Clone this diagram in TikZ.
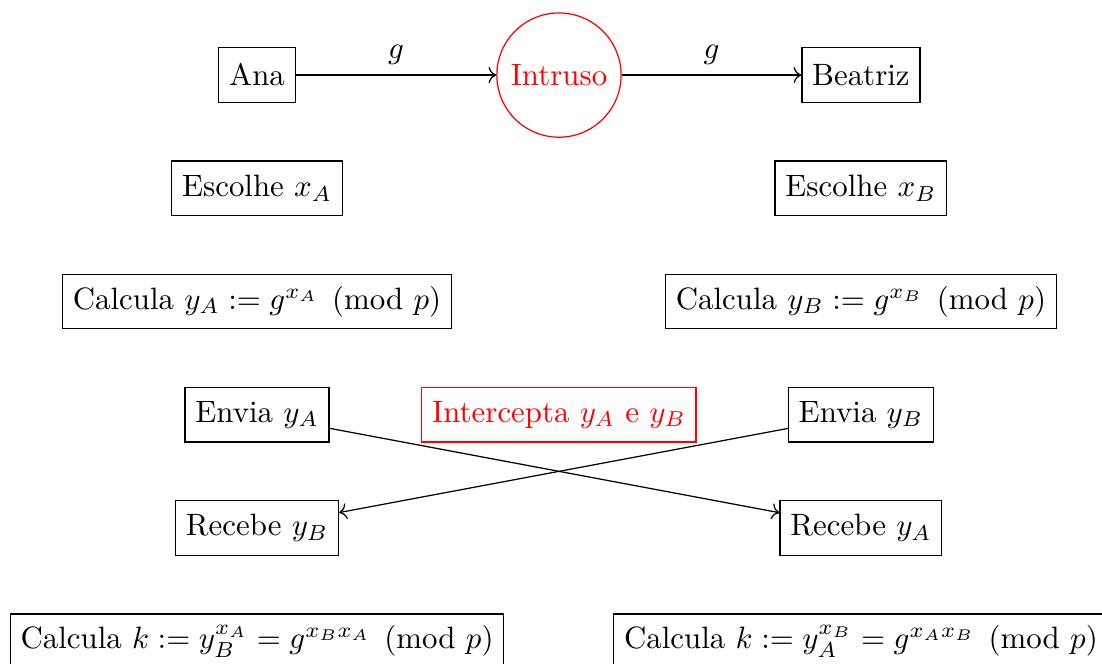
\documentclass[tikz,border=0pt]{standalone}
\usepackage{xcolor}
\usepackage{amsmath}
\usepackage{tikz}
\usetikzlibrary{arrows.meta, positioning}

\begin{document}
\begin{tikzpicture}[
  on grid,
  node distance=1.288cm and 3.435cm,
  passo/.style={rectangle, draw=black, minimum height=0.62cm, align=center},
  espiao/.style={circle, draw=red, text=red},
  espiaobox/.style={rectangle, draw=red, text=red, minimum height=0.62cm},
  arr/.style={->}
]
\useasboundingbox (-83.2pt,24.3pt) rectangle (273.5pt,-190.6pt);
\node[passo] (ana) {Ana};
\node[espiao, right=of ana] (intruso) {Intruso};
\node[passo, right=of intruso] (beatriz) {Beatriz};
\node[passo, below=of ana] (escA) {Escolhe $x_A$};
\node[passo, below=of beatriz] (escB) {Escolhe $x_B$};
\node[passo, below=of escA] (calcA) {Calcula $y_A := g^{x_A} \pmod{p}$};
\node[passo, below=of escB] (calcB) {Calcula $y_B := g^{x_B} \pmod{p}$};
\node[passo, below=of calcA] (enviaA) {Envia $y_A$};
\node[passo, below=of calcB] (enviaB) {Envia $y_B$};
\node[espiaobox, right=of enviaA] (intercepta) {Intercepta $y_A$ e $y_B$};
\node[passo, below=of enviaA] (recebeB) {Recebe $y_B$};
\node[passo, below=of enviaB] (recebeA) {Recebe $y_A$};
\node[passo, below=of recebeB] (chaveA) {Calcula $k := y_B^{x_A} = g^{x_B x_A} \pmod{p}$};
\node[passo, below=of recebeA] (chaveB) {Calcula $k := y_A^{x_B} = g^{x_A x_B} \pmod{p}$};
\draw[arr] (ana) -- node[midway, above] {$g$} (intruso);
\draw[arr] (intruso) -- node[midway, above] {$g$} (beatriz);
\draw[arr] (enviaA) -- (recebeA);
\draw[arr] (enviaB) -- (recebeB);
\end{tikzpicture}
\end{document}
